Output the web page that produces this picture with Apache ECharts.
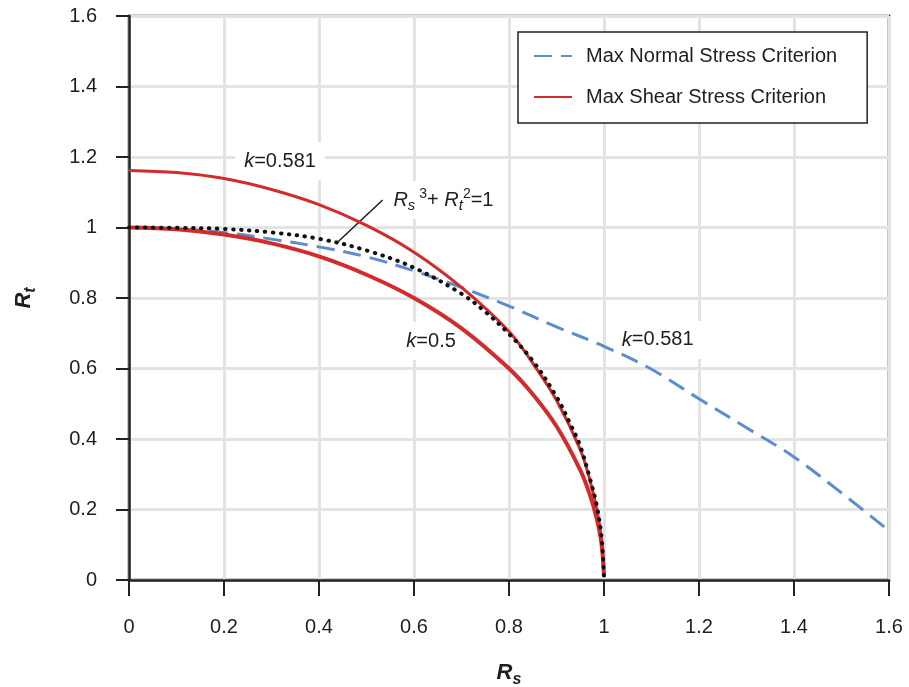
<!DOCTYPE html>
<html><head><meta charset="utf-8">
<script src="https://cdn.jsdelivr.net/npm/echarts@6/dist/echarts.min.js"></script>
<style>html,body{margin:0;padding:0;background:#fff}#c{width:909px;height:687px}</style>
</head><body><div id="c"></div>
<script>
// ---- data ----
const xTicks = [0, 0.2, 0.4, 0.6, 0.8, 1, 1.2, 1.4, 1.6];
const yTicks = [0, 0.2, 0.4, 0.6, 0.8, 1, 1.2, 1.4, 1.6];

const normalRs = [0, 0.1, 0.2, 0.3, 0.4, 0.5, 0.6, 0.7, 0.8, 0.9, 1.0, 1.1, 1.2, 1.3, 1.4, 1.5, 1.6];
const normalRt = [1.0, 0.996, 0.986, 0.967, 0.945, 0.917, 0.877, 0.83, 0.777, 0.718, 0.663, 0.598, 0.514, 0.432, 0.349, 0.247, 0.14];

const shear0581Rs = [0, 0.1, 0.2, 0.3, 0.4, 0.5, 0.6, 0.7, 0.8, 0.85, 0.9, 0.95, 0.97, 0.985, 0.995, 1.0];
const shear0581Rt = [1.162, 1.156, 1.139, 1.108, 1.065, 1.006, 0.93, 0.83, 0.705, 0.615, 0.51, 0.37, 0.285, 0.2, 0.11, 0.01];

const shear05Rs = [0, 0.1, 0.2, 0.3, 0.4, 0.5, 0.6, 0.7, 0.8, 0.85, 0.9, 0.95, 0.97, 0.985, 0.995, 1.0];
const shear05Rt = [1.0, 0.995, 0.98, 0.955, 0.918, 0.866, 0.80, 0.714, 0.60, 0.527, 0.436, 0.312, 0.243, 0.172, 0.1, 0.01];

const empRs = [0, 0.1, 0.2, 0.3, 0.4, 0.5, 0.6, 0.7, 0.75, 0.8, 0.85, 0.9, 0.93, 0.95, 0.97, 0.985, 0.995, 1.0];
const empRt = [1.0, 0.999, 0.996, 0.986, 0.968, 0.935, 0.886, 0.812, 0.761, 0.698, 0.622, 0.52, 0.44, 0.38, 0.29, 0.21, 0.12, 0.01];

const legendNames = ['Max Normal Stress Criterion', 'Max Shear Stress Criterion'];
const annotations = [
  { pos: [0.318, 1.188], text: '{k|k}{n|=0.581}' },
  { pos: [0.662, 1.078], text: '{R|R}{sub|s}{sup| 3}{n|+ }{R|R}{sub|t}{sup|2}{n|=1}' },
  { pos: [0.636, 0.678], text: '{k|k}{n|=0.5}' },
  { pos: [1.113, 0.681], text: '{k|k}{n|=0.581}' }
];
const leader = [[0.4395, 0.959], [0.534, 1.078]];

// ---- chart ----
const FONT = 'Liberation Sans, Arial, Helvetica, sans-serif';
const TXT = '#1e1e1e';
const zip = (a, b) => a.map((v, i) => [v, b[i]]);
const rich = {
  k: { fontFamily: FONT, fontSize: 20, fontStyle: 'italic', color: TXT, lineHeight: 26 },
  n: { fontFamily: FONT, fontSize: 20, color: TXT, lineHeight: 26 },
  R: { fontFamily: FONT, fontSize: 20, fontStyle: 'italic', color: TXT, lineHeight: 26 },
  sub: { fontFamily: FONT, fontSize: 15, fontStyle: 'italic', color: TXT, lineHeight: 12, verticalAlign: 'bottom' },
  sup: { fontFamily: FONT, fontSize: 14, color: TXT, lineHeight: 12, verticalAlign: 'top' }
};
const nameRich = {
  R: { fontFamily: FONT, fontSize: 22, fontStyle: 'italic', fontWeight: 'bold', color: TXT, lineHeight: 30 },
  sub: { fontFamily: FONT, fontSize: 16, fontStyle: 'italic', fontWeight: 'bold', color: TXT, lineHeight: 14, verticalAlign: 'bottom' }
};

const chart = echarts.init(document.getElementById('c'), null, { renderer: 'canvas' });
const option = {
  animation: false,
  backgroundColor: '#fff',
  textStyle: { fontFamily: FONT },
  grid: { left: 129, right: 20, top: 16, bottom: 107, outerBoundsMode: 'none', containLabel: false,
    show: true, borderColor: '#222', borderWidth: 2.5, backgroundColor: 'transparent' },
  legend: {
    data: legendNames,
    orient: 'vertical',
    left: 518, top: 32,
    padding: [14, 30, 16, 15],
    itemWidth: 38, itemHeight: 14, itemGap: 21,
    itemStyle: { opacity: 0 },
    borderColor: '#222', borderWidth: 1.5, backgroundColor: '#fff',
    textStyle: { fontFamily: FONT, fontSize: 20, color: TXT, padding: [0, 0, 0, 9] }
  },
  xAxis: {
    type: 'value', min: xTicks[0], max: xTicks[xTicks.length - 1], interval: 0.2,
    name: '{R|R}{sub|s}', nameLocation: 'middle', nameGap: 78,
    nameTextStyle: { rich: nameRich },
    axisLine: { show: true, onZero: false, lineStyle: { color: '#222', width: 2.5 } },
    axisTick: { show: true, length: 16, lineStyle: { color: '#222', width: 2 } },
    axisLabel: { fontFamily: FONT, fontSize: 20, color: TXT, margin: 37,
      formatter: v => String(+v.toFixed(1)), showMinLabel: true, showMaxLabel: true },
    splitLine: { show: true, lineStyle: { color: '#e3e3e3', width: 3 } }
  },
  yAxis: {
    type: 'value', min: yTicks[0], max: yTicks[yTicks.length - 1], interval: 0.2,
    name: '{R|R}{sub|t}', nameLocation: 'middle', nameGap: 90, nameRotate: 90,
    nameTextStyle: { rich: nameRich },
    axisLine: { show: true, onZero: false, lineStyle: { color: '#222', width: 2.5 } },
    axisTick: { show: true, length: 13, lineStyle: { color: '#222', width: 2 } },
    axisLabel: { fontFamily: FONT, fontSize: 20, color: TXT, margin: 32,
      formatter: v => String(+v.toFixed(1)), showMinLabel: true, showMaxLabel: true },
    splitLine: { show: true, lineStyle: { color: '#e3e3e3', width: 3 } }
  },
  series: [
    {
      name: 'annotations', type: 'scatter', z: 1, silent: true,
      symbolSize: 1, itemStyle: { color: 'rgba(0,0,0,0)', opacity: 1 },
      data: annotations.map(a => ({ value: a.pos, label: { formatter: a.text } })),
      label: { show: true, position: 'inside', color: TXT, opacity: 1, backgroundColor: '#fff', padding: [6, 9, 6, 9], rich: rich }
    },
    {
      name: 'leader', type: 'line', z: 3, silent: true, symbol: 'none',
      data: leader, lineStyle: { color: '#1a1a1a', width: 1.5 }
    },
    {
      name: legendNames[0], type: 'line', z: 2, symbol: 'none', smooth: 0.35,
      data: zip(normalRs, normalRt),
      itemStyle: { color: '#5b8dcf' },
      lineStyle: { color: '#5b8dcf', width: 3, type: [18, 9] }
    },
    {
      name: legendNames[1], type: 'line', z: 3, symbol: 'none', smooth: 0.35,
      data: zip(shear05Rs, shear05Rt),
      itemStyle: { color: '#d22b2b' },
      lineStyle: { color: '#d22b2b', width: 4 }
    },
    {
      name: legendNames[1], type: 'line', z: 3, symbol: 'none', smooth: 0.35,
      data: zip(shear0581Rs, shear0581Rt),
      itemStyle: { color: '#d22b2b' },
      lineStyle: { color: '#d22b2b', width: 3 }
    },
    {
      name: 'empirical', type: 'line', z: 4, symbol: 'none', smooth: 0.35,
      data: zip(empRs, empRt),
      lineStyle: { color: '#111', width: 4, type: [0.5, 7.5], cap: 'round' }
    }
  ]
};
chart.setOption(option);
</script></body></html>
